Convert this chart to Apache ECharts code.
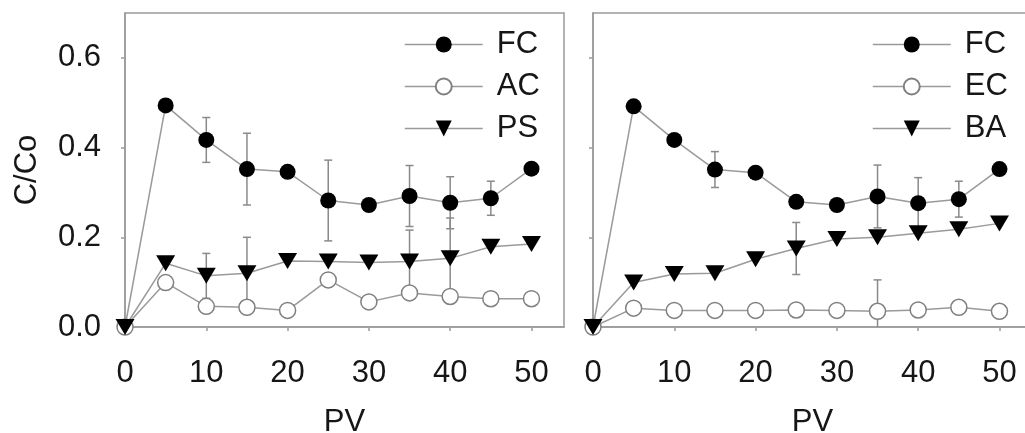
<!DOCTYPE html>
<html>
<head>
<meta charset="utf-8">
<script src="https://cdn.jsdelivr.net/npm/echarts@6/dist/echarts.min.js"></script>
<style>html,body{margin:0;padding:0;background:#fff}#c{width:1025px;height:433px}</style>
</head>
<body>
<div id="c"></div>
<script>
// ---- data ----
const pv = [0, 5, 10, 15, 20, 25, 30, 35, 40, 45, 50];
const xTicks = [0, 10, 20, 30, 40, 50];
const yTicks = [0, 0.2, 0.4, 0.6];

// left panel
const fcA    = [0, 0.494, 0.417, 0.352, 0.346, 0.282, 0.272, 0.292, 0.277, 0.287, 0.353];
const fcAErr = [0, 0, 0.05, 0.08, 0, 0.09, 0, 0.068, 0.058, 0.038, 0];
const ac     = [0, 0.099, 0.046, 0.044, 0.037, 0.105, 0.056, 0.076, 0.068, 0.063, 0.063];
const acErr  = [0, 0, 0, 0, 0, 0, 0, 0, 0, 0, 0];
const ps     = [0, 0.142, 0.114, 0.12, 0.147, 0.146, 0.144, 0.146, 0.153, 0.179, 0.185];
const psErr  = [0, 0, 0.05, 0.08, 0, 0, 0, 0.07, 0.09, 0, 0];

// right panel
const fcB    = [0, 0.492, 0.417, 0.351, 0.344, 0.279, 0.272, 0.291, 0.276, 0.285, 0.352];
const fcBErr = [0, 0, 0, 0.04, 0, 0, 0, 0.07, 0.057, 0.04, 0];
const ec     = [0, 0.042, 0.037, 0.037, 0.037, 0.038, 0.037, 0.035, 0.038, 0.044, 0.035];
const ecErr  = [0, 0, 0, 0, 0, 0, 0, 0.07, 0, 0, 0];
const ba     = [0, 0.099, 0.118, 0.12, 0.151, 0.175, 0.196, 0.2, 0.209, 0.218, 0.231];
const baErr  = [0, 0, 0, 0, 0, 0.058, 0, 0, 0, 0, 0];

// ---- styles ----
const FONT = '"Liberation Sans", Arial, sans-serif';
const FS = 31;
const AXIS_COLOR = '#9a9a9a';
const LINE_COLOR = '#9a9a9a';
const TEXT_COLOR = '#161616';

const pair = v => pv.map((x, i) => [x, v[i]]);

function styleFor(kind) {
  if (kind === 'filled') return {symbol: 'circle', symbolSize: 16, symbolRotate: 0, itemStyle: {color: '#000', borderColor: '#000', borderWidth: 0}};
  if (kind === 'open') return {symbol: 'circle', symbolSize: 16, symbolRotate: 0, itemStyle: {color: '#fff', borderColor: '#808080', borderWidth: 1.5}};
  return {symbol: 'triangle', symbolSize: [19, 16], symbolRotate: 180, itemStyle: {color: '#000', borderColor: '#000', borderWidth: 0}};
}

function lineSeries(name, vals, idx, kind) {
  const s = styleFor(kind);
  return Object.assign({
    type: 'line', name, xAxisIndex: idx, yAxisIndex: idx, data: pair(vals), clip: false, z: 3,
    lineStyle: {color: LINE_COLOR, width: 1.5}, emphasis: {disabled: true}, animation: false
  }, s);
}

function errSeries(vals, errs, idx) {
  const d = [];
  pv.forEach((x, i) => { if (errs[i] > 0) d.push([x, Math.max(0, vals[i] - errs[i]), vals[i] + errs[i]]); });
  return {
    type: 'custom', xAxisIndex: idx, yAxisIndex: idx, z: 1, silent: true, animation: false, clip: false,
    data: d, encode: {x: 0, y: [1, 2]},
    renderItem: (params, api) => {
      const x = api.value(0);
      const loV = api.value(1), hiV = api.value(2);
      const lo = api.coord([x, loV]);
      const hi = api.coord([x, hiV]);
      const c = 4;
      const st = {stroke: '#8a8a8a', lineWidth: 1.5};
      const ch = [
        {type: 'line', shape: {x1: lo[0], y1: lo[1], x2: hi[0], y2: hi[1]}, style: st},
        {type: 'line', shape: {x1: hi[0] - c, y1: hi[1], x2: hi[0] + c, y2: hi[1]}, style: st}
      ];
      if (loV > 0) ch.push({type: 'line', shape: {x1: lo[0] - c, y1: lo[1], x2: lo[0] + c, y2: lo[1]}, style: st});
      return {type: 'group', children: ch};
    }
  };
}

function xAxis(idx) {
  return {
    type: 'value', gridIndex: idx, min: 0, max: 54,
    name: 'PV', nameLocation: 'middle', nameGap: 80,
    nameTextStyle: {fontFamily: FONT, fontSize: FS, color: TEXT_COLOR},
    axisLine: {show: true, lineStyle: {color: AXIS_COLOR, width: 1.5}},
    axisTick: {show: true, inside: false, length: 4, lineStyle: {color: AXIS_COLOR, width: 1.5}, customValues: xTicks},
    axisLabel: {fontFamily: FONT, fontSize: FS, color: TEXT_COLOR, margin: 31, customValues: xTicks},
    splitLine: {show: false}
  };
}

function yAxis(idx, showLabels) {
  return {
    type: 'value', gridIndex: idx, min: 0, max: 0.7,
    name: showLabels ? 'C/Co' : '', nameLocation: 'middle', nameGap: 82, nameRotate: 90,
    nameTextStyle: {fontFamily: FONT, fontSize: FS, color: TEXT_COLOR},
    axisLine: {show: true, lineStyle: {color: AXIS_COLOR, width: 1.5}},
    axisTick: {show: true, inside: false, length: 4, lineStyle: {color: AXIS_COLOR, width: 1.5}, customValues: yTicks},
    axisLabel: {show: showLabels, fontFamily: FONT, fontSize: FS, color: TEXT_COLOR, margin: 24,
      customValues: yTicks, formatter: v => v.toFixed(1)},
    splitLine: {show: false}
  };
}

function legend(left, names) {
  return {
    orient: 'vertical', left: left, top: 24, itemWidth: 78, itemHeight: 20, itemGap: 11,
    data: names, selectedMode: false,
    textStyle: {fontFamily: FONT, fontSize: FS, color: TEXT_COLOR, lineHeight: 31, padding: [0, 0, 0, 9]},
    lineStyle: {color: LINE_COLOR, width: 1.5}
  };
}

const gridBase = {top: 13, width: 439, height: 314, show: true, borderColor: AXIS_COLOR, borderWidth: 1.5,
  backgroundColor: 'transparent', containLabel: false, outerBoundsMode: 'none'};

const option = {
  backgroundColor: '#fff',
  animation: false,
  grid: [
    Object.assign({left: 125}, gridBase),
    Object.assign({left: 593}, gridBase)
  ],
  xAxis: [xAxis(0), xAxis(1)],
  yAxis: [yAxis(0, true), yAxis(1, false)],
  legend: [legend(399, ['FC', 'AC', 'PS']), legend(867, ['FC', 'EC', 'BA'])],
  series: [
    errSeries(fcA, fcAErr, 0), errSeries(ac, acErr, 0), errSeries(ps, psErr, 0),
    errSeries(fcB, fcBErr, 1), errSeries(ec, ecErr, 1), errSeries(ba, baErr, 1),
    lineSeries('FC', fcA, 0, 'filled'), lineSeries('AC', ac, 0, 'open'), lineSeries('PS', ps, 0, 'tri'),
    lineSeries('FC', fcB, 1, 'filled'), lineSeries('EC', ec, 1, 'open'), lineSeries('BA', ba, 1, 'tri')
  ]
};

const chart = echarts.init(document.getElementById('c'), null, {renderer: 'canvas'});
chart.setOption(option);
</script>
</body>
</html>
